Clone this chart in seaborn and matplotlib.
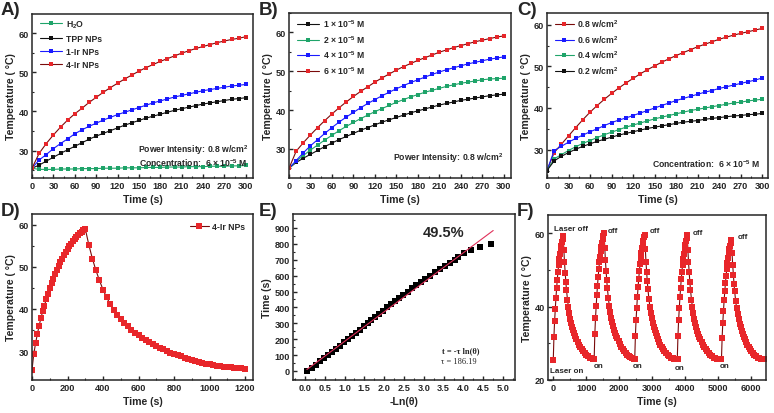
import matplotlib
matplotlib.use('Agg')
import matplotlib.pyplot as plt
import numpy as np
import pandas as pd
import seaborn as sns
from matplotlib.ticker import MultipleLocator, AutoMinorLocator

# ------------------------------------------------------------------ data
time_ab = list(range(0, 301, 10))

a_h2o = [25.5, 25.2, 25.2, 25.2, 25.3, 25.3, 25.3, 25.4, 25.4, 25.4, 25.5, 25.5, 25.5, 25.6, 25.6, 25.6,
         25.7, 25.7, 25.7, 25.8, 25.8, 25.8, 25.9, 25.9, 25.9, 26.0, 26.0, 26.0, 26.1, 26.1, 26.2]
a_tpp = [25.5, 26.3, 27.3, 28.3, 29.3, 30.2, 31.1, 32.0, 32.9, 33.7, 34.4, 35.1, 35.8, 36.5, 37.1, 37.7,
         38.3, 38.8, 39.3, 39.8, 40.3, 40.7, 41.1, 41.5, 41.9, 42.2, 42.5, 42.8, 43.1, 43.3, 43.5]
a_1ir = [25.5, 27.6, 29.0, 30.5, 31.8, 33.0, 34.3, 35.3, 36.2, 37.0, 37.8, 38.5, 39.2, 39.8, 40.4, 41.0,
         41.6, 42.2, 42.7, 43.2, 43.7, 44.1, 44.5, 44.9, 45.3, 45.6, 45.9, 46.2, 46.5, 46.7, 46.9]
a_4ir = [25.5, 29.3, 31.8, 34.0, 36.0, 37.8, 39.4, 40.8, 42.3, 43.6, 44.9, 46.1, 47.2, 48.3, 49.3, 50.3,
         51.2, 52.0, 52.8, 53.5, 54.2, 54.9, 55.5, 56.1, 56.6, 57.1, 57.6, 58.0, 58.4, 58.7, 59.1]
a_labels = ['H$_2$O', 'TPP NPs', '1-Ir NPs', '4-Ir NPs']

b_1e5 = [25.0, 26.5, 27.6, 28.6, 29.6, 30.6, 31.5, 32.4, 33.2, 34.0, 34.8, 35.5, 36.2, 36.9, 37.5, 38.1,
         38.7, 39.3, 39.8, 40.3, 40.8, 41.3, 41.7, 42.1, 42.5, 42.8, 43.1, 43.4, 43.7, 43.9, 44.1]
b_2e5 = [25.0, 26.8, 28.3, 29.7, 31.0, 32.3, 33.5, 34.7, 35.8, 36.8, 37.8, 38.7, 39.6, 40.4, 41.2, 42.0,
         42.7, 43.4, 44.0, 44.6, 45.1, 45.6, 46.1, 46.5, 46.9, 47.2, 47.5, 47.8, 48.0, 48.1, 48.2]
b_4e5 = [25.0, 27.0, 29.0, 30.8, 32.4, 34.0, 35.5, 36.9, 38.2, 39.4, 40.6, 41.7, 42.7, 43.7, 44.6, 45.5,
         46.3, 47.1, 47.8, 48.5, 49.2, 49.8, 50.4, 50.9, 51.4, 51.9, 52.3, 52.7, 53.1, 53.4, 53.7]
b_6e5 = [25.0, 29.4, 31.6, 33.6, 35.5, 37.3, 39.0, 40.6, 42.1, 43.5, 44.8, 46.0, 47.2, 48.3, 49.3, 50.3,
         51.2, 52.0, 52.8, 53.5, 54.2, 54.9, 55.5, 56.1, 56.6, 57.1, 57.6, 58.0, 58.4, 58.8, 59.1]
b_labels = ['1 \u00d7 10$^{-5}$ M', '2 \u00d7 10$^{-5}$ M', '4 \u00d7 10$^{-5}$ M', '6 \u00d7 10$^{-5}$ M']

c_08 = [25.0, 29.3, 31.3, 33.3, 35.3, 37.2, 39.0, 40.6, 42.1, 43.5, 44.8, 46.0, 47.1, 48.2, 49.2, 50.1,
        51.0, 51.8, 52.6, 53.3, 54.0, 54.7, 55.3, 55.9, 56.5, 57.0, 57.5, 57.9, 58.3, 58.7, 59.1]
c_06 = [25.0, 29.8, 30.8, 31.8, 32.7, 33.5, 34.3, 35.0, 35.8, 36.5, 37.1, 37.6, 38.2, 38.8, 39.4, 40.0,
        40.6, 41.2, 41.8, 42.3, 42.8, 43.3, 43.8, 44.2, 44.7, 45.1, 45.5, 45.9, 46.3, 46.7, 47.2]
c_04 = [25.0, 27.8, 28.8, 29.8, 30.7, 31.5, 32.2, 32.9, 33.6, 34.2, 34.8, 35.4, 35.9, 36.4, 36.9, 37.4,
        37.8, 38.2, 38.6, 39.0, 39.4, 39.7, 40.0, 40.3, 40.6, 40.9, 41.2, 41.4, 41.7, 41.9, 42.1]
c_02 = [25.0, 27.3, 28.4, 29.3, 30.1, 30.8, 31.4, 32.0, 32.5, 33.0, 33.5, 33.9, 34.3, 34.7, 35.1, 35.4,
        35.7, 36.0, 36.3, 36.6, 36.8, 37.0, 37.3, 37.5, 37.7, 37.9, 38.1, 38.2, 38.4, 38.5, 38.7]
c_labels = ['0.8 w/cm$^2$', '0.6 w/cm$^2$', '0.4 w/cm$^2$', '0.2 w/cm$^2$']

d_time = [0, 10, 20, 30, 40, 50, 60, 70, 80, 90, 100, 110, 120, 130, 140, 150, 160, 170, 180, 190, 200,
          210, 220, 230, 240, 250, 260, 270, 280, 290, 300,
          320, 340, 360, 380, 400, 420, 440, 460, 480, 500, 520, 540, 560, 580, 600, 620, 640, 660, 680,
          700, 720, 740, 760, 780, 800, 820, 840, 860, 880, 900, 920, 940, 960, 980, 1000, 1020, 1040,
          1060, 1080, 1100, 1120, 1140, 1160, 1180, 1200]
d_temp = [25.5, 29.3, 31.8, 34.0, 36.0, 37.8, 39.4, 40.8, 42.3, 43.6, 44.9, 46.1, 47.2, 48.3, 49.3, 50.3,
          51.2, 52.0, 52.8, 53.5, 54.2, 54.9, 55.5, 56.1, 56.6, 57.1, 57.6, 58.0, 58.4, 58.7, 59.1,
          55.3, 52.0, 49.2, 46.8, 44.6, 42.8, 41.2, 39.8, 38.6, 37.6, 36.7, 35.9, 35.1, 34.4, 33.8, 33.2,
          32.7, 32.2, 31.7, 31.2, 30.8, 30.4, 30.0, 29.6, 29.3, 29.0, 28.7, 28.4, 28.1, 27.9, 27.6, 27.4,
          27.2, 27.0, 26.8, 26.7, 26.5, 26.4, 26.3, 26.2, 26.1, 26.0, 25.9, 25.9, 25.8]

e_lnth = [0.05, 0.17, 0.28, 0.38, 0.48, 0.58, 0.68, 0.78, 0.88, 0.98, 1.08, 1.18, 1.28, 1.38, 1.48, 1.58,
          1.68, 1.78, 1.88, 1.98, 2.08, 2.18, 2.28, 2.38, 2.48, 2.59, 2.70, 2.81, 2.92, 3.04, 3.16, 3.28,
          3.40, 3.53, 3.67, 3.78, 3.86, 4.02, 4.20, 4.42, 4.70]
e_time = [0, 20, 40, 60, 80, 100, 120, 140, 160, 180, 200, 220, 240, 260, 280, 300, 320, 340, 360, 380,
          400, 420, 440, 460, 480, 500, 520, 540, 560, 580, 600, 620, 640, 660, 680, 700, 720, 740, 760,
          780, 800]
e_fit_x = [0.05, 4.75]
e_fit_t = [9, 884]

f_offsets = [0, 20, 40, 60, 80, 100, 120, 140, 160, 180, 200, 220, 240, 260, 280, 300,
             320, 340, 360, 380, 400, 430, 460, 490, 520, 550, 580, 610, 640, 670, 700, 740, 780,
             820, 860, 900, 950, 1000, 1050, 1100, 1150, 1200, 1260, 1320]
f_starts = [0, 1240, 2470, 3760, 5100]
f_lengths = [42, 42, 44, 44, 44]
f_c1 = [25.5, 31.8, 36.0, 39.4, 42.3, 44.9, 47.2, 49.3, 51.2, 52.8, 54.2, 55.5, 56.6, 57.6, 58.5, 59.2,
        55.3, 52.0, 49.2, 46.8, 44.6, 41.9, 39.8, 38.1, 36.7, 35.5, 34.4, 33.5, 32.7, 31.9, 31.2, 30.4,
        29.6, 29.0, 28.4, 27.9, 27.3, 26.8, 26.4, 26.1, 25.9, 25.8]
f_c2 = [25.8, 32.5, 36.8, 40.2, 43.1, 45.7, 48.0, 50.1, 52.0, 53.6, 55.0, 56.3, 57.4, 58.4, 59.3, 60.0,
        56.0, 52.6, 49.7, 47.2, 45.0, 42.3, 40.1, 38.4, 36.9, 35.7, 34.6, 33.6, 32.8, 32.0, 31.3, 30.5,
        29.7, 29.1, 28.5, 28.0, 27.4, 26.9, 26.5, 26.2, 26.0, 25.8]
f_c3 = [25.8, 32.0, 36.3, 39.7, 42.6, 45.2, 47.5, 49.6, 51.5, 53.1, 54.5, 55.8, 56.9, 57.9, 58.8, 59.5,
        55.6, 52.2, 49.4, 46.9, 44.7, 42.0, 39.9, 38.2, 36.8, 35.6, 34.5, 33.5, 32.7, 31.9, 31.2, 30.4,
        29.6, 29.0, 28.4, 27.9, 27.3, 26.8, 26.4, 26.1, 25.9, 25.8, 25.7, 25.7]
f_c4 = [25.7, 31.9, 36.2, 39.6, 42.5, 45.1, 47.4, 49.5, 51.4, 53.0, 54.4, 55.7, 56.8, 57.8, 58.7, 59.4,
        55.5, 52.1, 49.3, 46.8, 44.6, 41.9, 39.8, 38.1, 36.7, 35.5, 34.4, 33.4, 32.6, 31.8, 31.1, 30.3,
        29.6, 29.0, 28.4, 27.9, 27.3, 26.8, 26.4, 26.1, 25.9, 25.8, 25.7, 25.7]
f_c5 = [25.8, 31.5, 35.6, 38.9, 41.7, 44.2, 46.4, 48.4, 50.2, 51.8, 53.2, 54.5, 55.6, 56.6, 57.4, 58.0,
        54.5, 51.3, 48.6, 46.2, 44.1, 41.5, 39.5, 37.9, 36.5, 35.3, 34.3, 33.4, 32.6, 31.8, 31.1, 30.3,
        29.6, 29.0, 28.4, 27.9, 27.3, 26.8, 26.4, 26.1, 25.9, 25.8, 25.7, 25.6]

# ------------------------------------------------------------------ style
sns.set_theme(style='ticks')
plt.rcParams['font.family'] = ['Liberation Sans', 'DejaVu Sans']
plt.rcParams['font.weight'] = 'bold'
plt.rcParams['axes.labelweight'] = 'bold'
plt.rcParams['mathtext.fontset'] = 'custom'
plt.rcParams['mathtext.rm'] = 'Liberation Sans:bold'
plt.rcParams['mathtext.it'] = 'Liberation Sans:bold'
plt.rcParams['mathtext.bf'] = 'Liberation Sans:bold'
plt.rcParams['mathtext.default'] = 'rm'
plt.rcParams['axes.linewidth'] = 1.1

RED, BLUE, GREEN, BLACK = '#e8262a', '#1a1aff', '#1fa46a', '#111111'
RED_LINE = '#7a0a0a'

W, H = 774, 414
fig = plt.figure(figsize=(W / 100, H / 100), dpi=100)


def make_ax(l, t, r, b):
    return fig.add_axes([l / W, 1 - b / H, (r - l) / W, (b - t) / H])


def style_ax(ax, xmaj, ymaj, xlim, ylim, xlabel, ylabel, xfmt=None):
    ax.set_xlim(*xlim)
    ax.set_ylim(*ylim)
    ax.xaxis.set_major_locator(MultipleLocator(xmaj))
    ax.yaxis.set_major_locator(MultipleLocator(ymaj))
    ax.xaxis.set_minor_locator(AutoMinorLocator(2))
    ax.yaxis.set_minor_locator(AutoMinorLocator(2))
    ax.tick_params(which='major', direction='in', length=3, width=1, labelsize=6.6, pad=2,
                   top=False, right=False)
    ax.tick_params(which='minor', direction='in', length=1.6, width=0.8, top=False, right=False)
    if xfmt:
        ax.xaxis.set_major_formatter(xfmt)
    for lab in ax.get_xticklabels() + ax.get_yticklabels():
        lab.set_fontweight('bold')
    ax.set_xlabel(xlabel, fontsize=7.6, fontweight='bold', labelpad=3)
    ax.set_ylabel(ylabel, fontsize=7.6, fontweight='bold', labelpad=2)


def series(ax, x, y, color, label, ms=2.9, line=None):
    df = pd.DataFrame({'x': x, 'y': y})
    kw = {}
    if label is not None:
        kw['label'] = label
    sns.lineplot(data=df, x='x', y='y', ax=ax, color=line or color, lw=0.8, marker='s',
                 markersize=ms, markerfacecolor=color, markeredgecolor=color, markeredgewidth=0,
                 estimator=None, sort=False, **kw)


def legend(ax, handlelength=2.6, **kw):
    leg = ax.legend(frameon=False, fontsize=6.2, handlelength=handlelength, handletextpad=0.4,
                    labelspacing=0.45, **kw)
    for t in leg.get_texts():
        t.set_fontweight('bold')
    return leg


TEMP = 'Temperature ( \u00b0C)'

# ---------------- A
axA = make_ax(32, 15, 253, 179)
series(axA, time_ab, a_h2o, GREEN, a_labels[0])
series(axA, time_ab, a_tpp, BLACK, a_labels[1])
series(axA, time_ab, a_1ir, BLUE, a_labels[2])
series(axA, time_ab, a_4ir, RED, a_labels[3], line=RED_LINE)
style_ax(axA, 30, 10, (0, 310), (23.0, 64.9), 'Time (s)', TEMP)
legend(axA, loc='upper left', bbox_to_anchor=(0.0, 1.02))
axA.text(0.977, 0.175, 'Power Intensity: 0.8 w/cm$^2$', transform=axA.transAxes, ha='right',
         va='center', fontsize=6.2, fontweight='bold')
axA.text(0.977, 0.097, 'Concentration:  6 \u00d7 10$^{-5}$ M', transform=axA.transAxes, ha='right',
         va='center', fontsize=6.2, fontweight='bold')

# ---------------- B
axB = make_ax(289, 14, 511, 179)
series(axB, time_ab, b_1e5, BLACK, b_labels[0])
series(axB, time_ab, b_2e5, GREEN, b_labels[1])
series(axB, time_ab, b_4e5, BLUE, b_labels[2])
series(axB, time_ab, b_6e5, RED, b_labels[3], line=RED_LINE)
style_ax(axB, 30, 10, (0, 310), (22.5, 65.0), 'Time (s)', TEMP)
legend(axB, loc='upper left', bbox_to_anchor=(0.0, 1.02))
axB.text(0.964, 0.127, 'Power Intensity: 0.8 w/cm$^2$', transform=axB.transAxes, ha='right',
         va='center', fontsize=6.2, fontweight='bold')

# ---------------- C
axC = make_ax(547, 14, 768, 179)
series(axC, time_ab, c_08, RED, c_labels[0], line=RED_LINE)
series(axC, time_ab, c_06, BLUE, c_labels[1])
series(axC, time_ab, c_04, GREEN, c_labels[2])
series(axC, time_ab, c_02, BLACK, c_labels[3])
style_ax(axC, 30, 10, (0, 308), (23.2, 62.8), 'Time (s)', TEMP)
legend(axC, handlelength=2.2, loc='upper left', bbox_to_anchor=(0.0, 1.02))
axC.text(0.968, 0.09, 'Concentration:  6 \u00d7 10$^{-5}$ M', transform=axC.transAxes, ha='right',
         va='center', fontsize=6.2, fontweight='bold')

# ---------------- D
axD = make_ax(32, 215, 253, 381)
series(axD, d_time, d_temp, RED, '4-Ir NPs', ms=4.0, line=RED_LINE)
style_ax(axD, 200, 10, (0, 1245), (23.1, 62.6), 'Time (s)', TEMP)
legend(axD, handlelength=2.2, loc='upper right', bbox_to_anchor=(1.0, 1.0))

# ---------------- E
axE = make_ax(293, 215, 515, 381)
sns.scatterplot(x=e_lnth, y=e_time, ax=axE, marker='s', s=15, color='black', linewidth=0, zorder=2)
sns.lineplot(x=e_fit_x, y=e_fit_t, ax=axE, color='#e0305a', lw=0.8, zorder=3)
style_ax(axE, 0.5, 100, (-0.3, 5.3), (-57, 988), '-Ln(\u03b8)', 'Time (s)',
         xfmt=matplotlib.ticker.FormatStrFormatter('%.1f'))
axE.text(0.68, 0.89, '49.5%', transform=axE.transAxes, ha='center', va='center', fontsize=10.5,
         fontweight='bold')
axE.text(0.757, 0.18, 't = -\u03c4 ln(\u03b8)', transform=axE.transAxes, ha='center', va='center',
         fontsize=6, fontweight='bold', family=['Liberation Serif', 'DejaVu Serif'])
axE.text(0.745, 0.114, '\u03c4 = 186.19', transform=axE.transAxes, ha='center', va='center',
         fontsize=6, fontweight='normal', family=['Liberation Serif', 'DejaVu Serif'])

# ---------------- F
axF = make_ax(548, 216, 766, 381)
f_cycles = [f_c1, f_c2, f_c3, f_c4, f_c5]
f_t, f_y = [], []
for start, n, temps in zip(f_starts, f_lengths, f_cycles):
    f_t += [start + o for o in f_offsets[:n]]
    f_y += temps
series(axF, f_t, f_y, RED, None, ms=4.2, line=RED_LINE)
style_ax(axF, 1000, 20, (-160, 6450), (20, 64.9), 'Time (s)', TEMP)
axF.text(0.028, 0.92, 'Laser off', transform=axF.transAxes, ha='left', va='center', fontsize=5.8)
for xf, yf in [(0.275, 0.909), (0.468, 0.909), (0.665, 0.891), (0.872, 0.867)]:
    axF.text(xf, yf, 'off', transform=axF.transAxes, ha='left', va='center', fontsize=5.8)
axF.text(0.009, 0.06, 'Laser on', transform=axF.transAxes, ha='left', va='center', fontsize=5.8)
for xf, yf in [(0.211, 0.085), (0.39, 0.085), (0.583, 0.073), (0.789, 0.085)]:
    axF.text(xf, yf, 'on', transform=axF.transAxes, ha='left', va='center', fontsize=5.8)
if axF.get_legend() is not None:
    axF.get_legend().remove()

# panel letters
for lab, (px, py) in zip(['A)', 'B)', 'C)', 'D)', 'E)', 'F)'],
                         [(1, 2), (259, 2), (517, 2), (1, 203), (259, 203), (517, 203)]):
    fig.text(px / W, 1 - py / H, lab, ha='left', va='top', fontsize=13.5, fontweight='bold')

fig.savefig('out.png', dpi=100)
